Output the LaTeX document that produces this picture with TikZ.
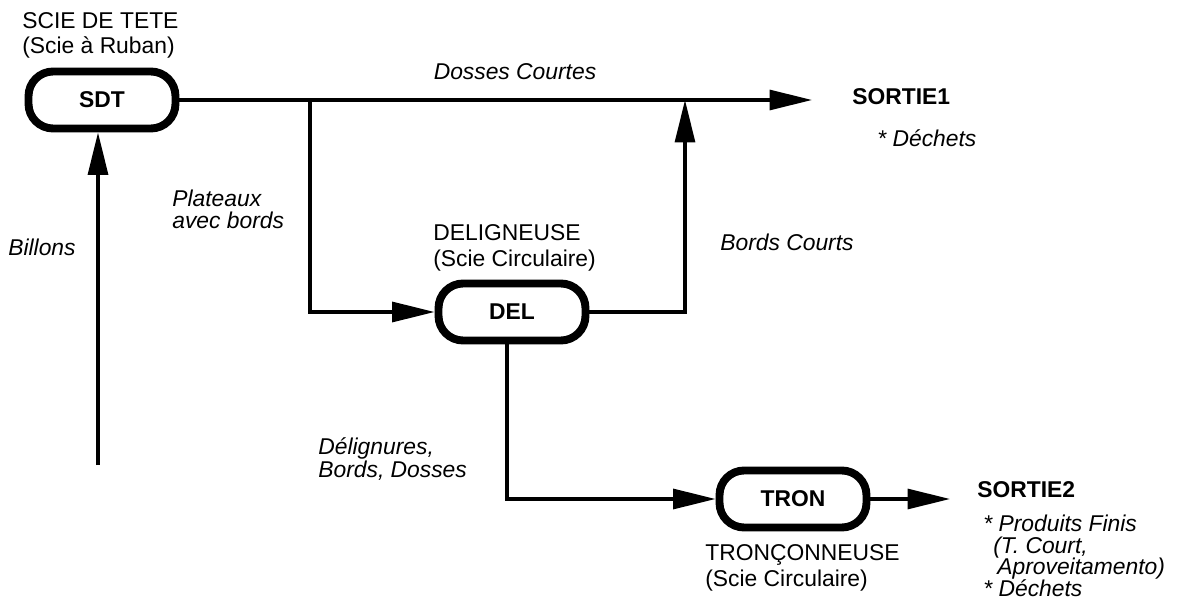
\documentclass[tikz,border=0pt]{standalone}
\usepackage{fontspec}
\setmainfont{Liberation Sans}
\usetikzlibrary{arrows.meta}

\begin{document}
\begin{tikzpicture}[x=0.02cm, y=-0.02cm,
    machine/.style={draw, line width=4.5pt, rounded corners=14pt, minimum width=2.94cm, minimum height=1.14cm, font=\fontsize{13}{15}\selectfont\bfseries},
    flow/.style={line width=1.8pt, -{Triangle[length=0.85cm, width=0.4cm]}},
    lbl/.style={inner sep=0pt, align=left, font=\fontsize{13}{15}\selectfont},
    ilbl/.style={inner sep=0pt, align=left, font=\fontsize{13}{15}\selectfont\itshape},
    blbl/.style={inner sep=0pt, align=left, font=\fontsize{13}{15}\selectfont\bfseries}]
  \useasboundingbox (0,0) rectangle (1190,604);

  \node[machine] (sdt) at (102,100) {SDT};
  \node[machine] (del) at (512,312) {DEL};
  \node[machine] (tron) at (793,499) {TRON};

  \node[lbl, anchor=north west] (sdtname) at (22,12) {SCIE DE TETE\\[-0.8pt](Scie à Ruban)};
  \node[lbl, anchor=north west] (delname) at (433,224) {DELIGNEUSE\\(Scie Circulaire)};
  \node[lbl, anchor=north west] (tronname) at (705,544) {TRONÇONNEUSE\\(Scie Circulaire)};

  \coordinate (out1) at (812,100);
  \coordinate (out2) at (950,499);
  \coordinate (billons) at (98,465);
  \coordinate (plat) at (310,0);
  \coordinate (bc) at (685,0);
  \coordinate (dl) at (507,0);

  \draw[flow] (billons) -- (billons |- sdt.south);
  \draw[flow] (sdt.east) -- (out1);
  \draw[flow] (sdt.east -| plat) |- (del.west);
  \draw[flow] (del.east) -| (sdt.east -| bc);
  \draw[flow] (del.south -| dl) |- (tron.west);
  \draw[flow] (tron.east) -- (out2);

  \node[ilbl] (dosses) at (515,72) {Dosses Courtes};
  \node[ilbl, anchor=west] (bords) at (720,242) {Bords Courts};
  \node[ilbl, anchor=west] (billonslbl) at (8,247) {Billons};
  \node[ilbl, anchor=north west] (plateaux) at (172,190) {Plateaux\\[-2.5pt]avec bords};
  \node[ilbl, anchor=north west] (delign) at (318,437) {Délignures,\\[-2pt]Bords, Dosses};

  \node[blbl, anchor=west] (sortie1) at (852,97) {SORTIE1};
  \node[ilbl, anchor=west] (dechets1) at (877,138) {* Déchets};
  \node[blbl, anchor=west] (sortie2) at (977,490) {SORTIE2};
  \node[ilbl, anchor=north west] (produits) at (983,515)
    {* Produits Finis\\[-2.8pt]\hspace*{0.2cm}(T. Court,\\[-2.8pt]\hspace*{0.28cm}Aproveitamento)\\[-2.8pt]* Déchets};
\end{tikzpicture}
\end{document}
